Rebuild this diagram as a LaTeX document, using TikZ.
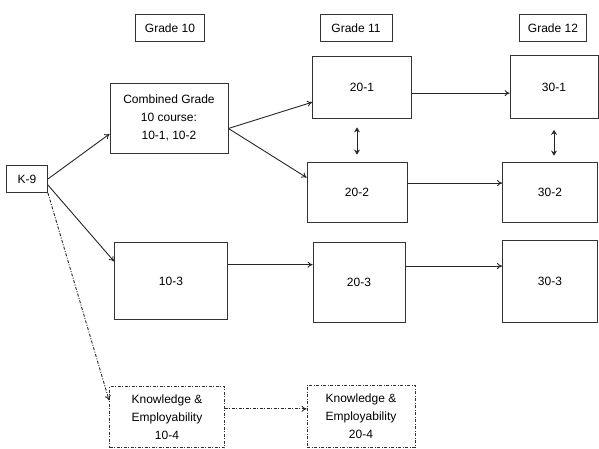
\documentclass[tikz,border=0pt]{standalone}
\usepackage{fontspec}
\setmainfont{Liberation Sans}
\usetikzlibrary{arrows.meta}

\begin{document}
\begin{tikzpicture}[x=1pt, y=-1pt,
        box/.style={draw=black!80, line width=.8pt, align=center, inner sep=2pt, font=\fontsize{12}{18}\selectfont},
        kebox/.style={box, dash pattern=on 3pt off 1.5pt on 1pt off 1.5pt},
        link/.style={draw=black!85, line width=.9pt, -{To[length=5pt, width=6pt]}},
        kelink/.style={link, dash pattern=on 3pt off 1.5pt on 1pt off 1.5pt},
        swap/.style={draw=black!85, line width=1pt, {Stealth[length=5pt, width=6pt]}-{Stealth[length=5pt, width=6pt]}}]
        \useasboundingbox (0,0) rectangle (599,449);
        % grade headings
        \node[box, minimum width=69pt, minimum height=27pt] (g10) at (170,28) {Grade 10};
        \node[box, minimum width=72pt, minimum height=27pt] (g11) at (356,28) {Grade 11};
        \node[box, minimum width=67pt, minimum height=27pt] (g12) at (553,28) {Grade 12};
        % courses
        \node[box, minimum width=41pt, minimum height=27pt] (k9) at (27,179) {K-9};
        \node[box, minimum width=118pt, minimum height=70pt] (comb) at (169,118) {Combined Grade\\10 course:\\10-1, 10-2};
        \node[box, minimum width=99pt, minimum height=62pt] (t201) at (362,87) {20-1};
        \node[box, minimum width=88pt, minimum height=63pt] (t301) at (554,87) {30-1};
        \node[box, minimum width=100pt, minimum height=60pt] (t202) at (357,192) {20-2};
        \node[box, minimum width=95pt, minimum height=60pt] (t302) at (550,192) {30-2};
        \node[box, minimum width=113pt, minimum height=77pt] (t103) at (171,281) {10-3};
        \node[box, minimum width=92pt, minimum height=80pt] (t203) at (359,282) {20-3};
        \node[box, minimum width=95pt, minimum height=82pt] (t303) at (550,281) {30-3};
        \node[kebox, minimum width=115pt, minimum height=61pt] (ke104) at (167,417) {Knowledge \&\\Employability\\10-4};
        \node[kebox, minimum width=108pt, minimum height=62pt] (ke204) at (361,416) {Knowledge \&\\Employability\\20-4};
        % pathways
        \draw[link] (k9.east) -- (comb.195);
        \draw[link] (comb.350) -- (t201.197);
        \draw[link] (comb.350) -- (t202.164);
        \draw[link] (k9.344) -- (t103.161);
        \draw[kelink] (k9.south east) -- (ke104.164);
        \draw[link] (t201.353) -- (t201.353 -| t301.west);
        \draw[link] (t202.10) -- (t202.10 -| t302.west);
        \draw[link] (t103.16) -- (t103.16 -| t203.west);
        \draw[link] (t203.19) -- (t203.19 -| t303.west);
        \draw[kelink] (ke104.8) -- (ke104.8 -| ke204.west);
        % transfers
        \draw[swap, shorten <=9pt, shorten >=7pt] (t201.south -| t202.north) -- (t202.north);
        \draw[swap, shorten <=11pt, shorten >=6pt] (t301.south) -- (t301.south |- t302.north);
\end{tikzpicture}
\end{document}
